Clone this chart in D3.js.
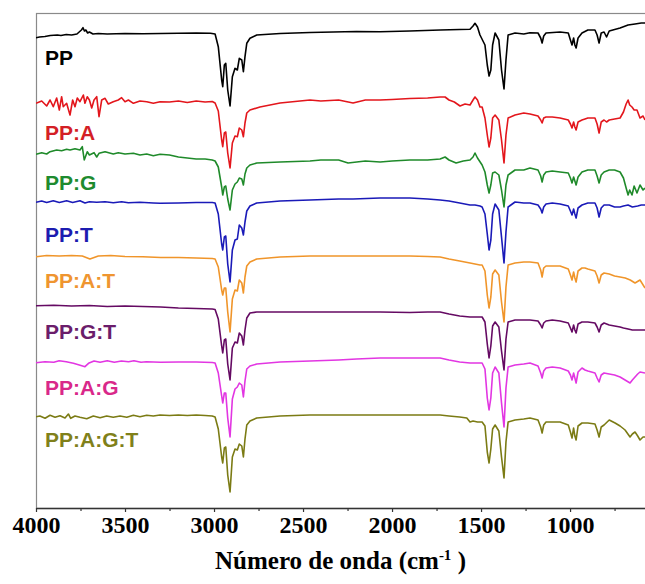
<!DOCTYPE html>
<html><head><meta charset="utf-8">
<script src="https://cdn.jsdelivr.net/npm/d3@7"></script>
<style>html,body{margin:0;padding:0;background:#fff;}svg{display:block;}</style>
</head><body>
<svg id="chart" width="645" height="584"></svg>
<script>
// ---------------- DATA ----------------
const seriesNames = ["PP","PP:A","PP:G","PP:T","PP:A:T","PP:G:T","PP:A:G","PP:A:G:T"];
// vertical offset of each spectrum (a.u.)
const offsets = [471,405,354,306,251,202,145,91];
// distance of the label below its spectrum baseline (a.u.)
const labelGaps = [28,37,36,40,31,33,32,30];
const lineColors = ["#000000","#e3161c","#1f8a2a","#1a1ab8","#f0952a","#650a63","#e236e2","#7b7b14"];
const labelColors = ["#000000","#d41f26","#1e8b2f","#1c1cb0","#ef9530","#6b1d6b","#d9288a","#80801a"];
const majorTicks = [4000,3500,3000,2500,2000,1500,1000];
const minorTicks = [3750,3250,2750,2250,1750,1250,750];

// spectra: [wavenumber (cm-1), transmittance relative to the baseline (a.u.)]
const specPP = [[4000,-0.7],[3980,0],[3950,0.5],[3920,1.5],[3880,2],[3860,1.5],[3830,2.5],[3800,2],[3770,3],[3745,7],[3736,9.3],[3728,6],[3720,7],[3710,4],[3700,5],[3680,3],[3650,3.5],[3600,3],[3500,3.5],[3400,3.2],[3300,3.5],[3200,3.7],[3100,4],[3020,3.7],[2994,3],[2976,-9.7],[2957,-43],[2951,-49.7],[2942,-28],[2934,-26.3],[2923,-53],[2910,-69],[2897,-39.7],[2882,-31.3],[2869,-33],[2858,-21.3],[2844,-23],[2835,-34.7],[2826,-19.7],[2816,-6.3],[2798,-1.3],[2760,2],[2629,3.5],[2461,4.5],[2200,5.5],[2067,5.3],[1900,6],[1730,7],[1620,7.5],[1562,7.7],[1545,11],[1534,13.7],[1520,10],[1506,2],[1478,-8],[1465,-28],[1455,-39],[1445,-33],[1435,-8],[1421,4],[1400,-3],[1385,-33],[1371,-52],[1360,-23],[1348,2],[1309,4],[1260,3],[1225,4.3],[1180,4],[1165,-1],[1157,-6],[1148,1],[1135,4],[1056,5],[1010,4],[998,-3],[989,-8],[980,-1],[973,-8],[966,-11],[955,-1],[933,4],[900,7],[860,7],[848,2],[837,-6],[825,4],[809,5],[795,0],[780,6],[719,9],[674,12],[635,13],[600,14],[579,14]];

const specPPA = [[4000,-0.3],[3968,2],[3940,-3],[3921,3],[3903,-3.7],[3884,5],[3869,-7],[3856,6.3],[3847,-3.7],[3828,-0.3],[3809,-12],[3794,3],[3781,-3.7],[3768,5],[3753,1.3],[3734,8],[3725,-0.3],[3712,6.3],[3700,3],[3687,-5],[3674,3],[3659,6.3],[3646,-13.7],[3631,3],[3612,4.7],[3594,-1],[3566,1.3],[3538,3],[3519,5.3],[3500,1.3],[3481,3],[3453,-0.3],[3416,2],[3378,1.3],[3341,-0.3],[3303,1.3],[3250,1],[3200,2],[3150,0.5],[3100,2],[3050,1],[3010,1.5],[2994,0],[2976,-8],[2957,-37],[2951,-43.7],[2942,-30],[2934,-29],[2923,-50],[2910,-65],[2897,-40],[2882,-33],[2869,-33.7],[2858,-25],[2844,-27],[2835,-33.7],[2826,-20],[2816,-10],[2798,-7],[2742,-4],[2629,0],[2461,3],[2400,2],[2300,3],[2219,0],[2150,3],[2067,3],[2000,3.5],[1900,4.5],[1800,5],[1730,6],[1702,6],[1680,3],[1650,1],[1618,-3],[1590,-1],[1562,-2],[1545,3],[1534,6],[1520,3],[1506,-4],[1494,-4],[1478,-15],[1465,-32],[1455,-44],[1445,-35],[1435,-15],[1421,-12],[1400,-17],[1385,-37],[1371,-60],[1360,-32],[1348,-15],[1309,-12],[1260,-10],[1225,-11],[1180,-13],[1165,-17],[1157,-20],[1148,-15],[1135,-14],[1100,-14],[1056,-15],[1010,-17],[998,-21],[989,-25],[980,-19],[973,-24],[966,-27],[955,-19],[933,-17],[916,-16],[900,-15],[860,-15],[848,-21],[837,-30],[825,-19],[809,-17],[795,-19],[780,-17],[750,-16],[719,-15],[700,-9],[685,-1],[674,3],[665,-2],[652,-4],[640,-7],[624,-7],[607,-15],[590,-13],[579,-17]];

const specPPG = [[4000,-0.3],[3968,1.3],[3940,0],[3921,2.3],[3884,4],[3856,3.3],[3828,4.7],[3809,4],[3781,5.3],[3753,4],[3740,7.3],[3729,-6],[3712,2.3],[3700,-1],[3674,1.3],[3659,-3],[3646,0.7],[3612,2.3],[3566,0],[3538,1.3],[3500,0],[3453,0.7],[3416,-1],[3378,0],[3341,-1.7],[3303,-0.3],[3250,-1],[3200,-3],[3150,-4],[3100,-5],[3050,-5],[3010,-6],[2994,-7],[2976,-13],[2957,-33],[2951,-41],[2942,-33],[2934,-32],[2923,-45],[2910,-56],[2897,-36],[2882,-30],[2869,-28],[2858,-24],[2844,-25],[2835,-31],[2826,-20],[2816,-14],[2798,-11],[2760,-9],[2629,-8],[2461,-7],[2400,-6],[2300,-6],[2247,-9],[2150,-7],[2067,-8],[2000,-7],[1900,-6],[1800,-6],[1730,-5],[1702,-3],[1680,-6],[1640,-9],[1600,-7],[1562,-6],[1545,-3],[1534,1],[1520,-4],[1494,-11],[1478,-18],[1465,-31],[1455,-39],[1445,-31],[1435,-19],[1421,-18],[1400,-21],[1385,-36],[1371,-53],[1360,-31],[1348,-21],[1309,-16],[1260,-16],[1225,-14],[1180,-16],[1165,-22],[1157,-28],[1148,-21],[1135,-18],[1100,-17],[1056,-18],[1010,-19],[998,-24],[989,-29],[980,-23],[973,-27],[966,-31],[955,-23],[933,-18],[900,-16],[860,-16],[848,-22],[837,-29],[825,-21],[809,-18],[780,-16],[750,-16],[719,-18],[700,-24],[685,-34],[674,-41],[665,-36],[652,-41],[640,-32],[624,-39],[607,-31],[590,-36],[579,-34]];

const specPPT = [[4000,-0.3],[3968,1],[3940,-0.5],[3903,1.3],[3869,-0.5],[3828,1.3],[3794,-0.5],[3753,1.3],[3725,-1],[3700,0.3],[3659,-0.3],[3612,0.3],[3566,-0.7],[3519,0.3],[3481,-0.7],[3416,-0.3],[3341,-1],[3303,-1.3],[3200,-1],[3100,-0.5],[3010,-0.5],[2994,-1],[2976,-12],[2957,-42],[2951,-48],[2942,-35],[2934,-34],[2923,-62],[2910,-80],[2897,-48],[2882,-38],[2869,-37],[2858,-23],[2844,-26],[2835,-33],[2826,-20],[2816,-9],[2798,-4],[2760,-1],[2629,1],[2461,2],[2300,3],[2219,3],[2067,4],[1900,4],[1800,3],[1730,2],[1680,1],[1620,-1],[1562,-3],[1534,-3],[1506,-4],[1494,-5],[1478,-12],[1465,-32],[1455,-48],[1445,-38],[1435,-12],[1421,-2],[1400,-8],[1385,-35],[1371,-61],[1360,-30],[1348,-5],[1309,0],[1260,-1],[1225,-1],[1180,-3],[1165,-7],[1157,-11],[1148,-5],[1135,-2],[1100,-1],[1056,-2],[1010,-4],[998,-9],[989,-13],[980,-7],[973,-12],[966,-16],[955,-6],[933,-3],[900,-1],[860,-1],[848,-6],[837,-15],[825,-6],[809,-3],[780,-3],[750,-5],[719,-5],[700,-4],[674,-3],[650,-5],[620,-4],[600,-3],[579,-3]];

const specPPAT = [[4000,0.3],[3940,1.5],[3870,1],[3800,1.5],[3740,1],[3697,-2],[3650,1],[3580,1.5],[3500,0.5],[3400,0.3],[3300,-0.5],[3200,-0.5],[3100,-1],[3010,-1.5],[2994,-2],[2976,-10],[2957,-33],[2951,-38],[2942,-31],[2934,-31],[2923,-55],[2910,-75],[2897,-42],[2882,-33],[2869,-34],[2858,-23],[2844,-26],[2835,-36],[2826,-20],[2816,-9],[2798,-5],[2760,-2],[2629,0],[2461,1],[2300,1],[2067,1],[1900,1],[1800,0.5],[1730,0],[1680,-2],[1620,-4],[1562,-6],[1534,-7],[1506,-8],[1494,-8],[1478,-14],[1465,-38],[1455,-51],[1445,-40],[1435,-17],[1421,-13],[1400,-18],[1385,-45],[1371,-65],[1360,-30],[1348,-8],[1309,-6],[1260,-5],[1225,-5],[1180,-6],[1165,-13],[1157,-20],[1148,-11],[1135,-9],[1100,-9],[1056,-9],[1010,-12],[998,-18],[989,-23],[980,-15],[973,-21],[966,-25],[955,-14],[933,-11],[916,-11],[900,-12],[860,-14],[848,-19],[837,-26],[825,-18],[809,-16],[780,-17],[750,-19],[719,-20],[690,-21],[662,-23],[635,-26],[607,-23],[579,-31]];

const specPPGT = [[4000,0.3],[3900,0.8],[3800,0],[3700,0.5],[3600,-0.5],[3500,0],[3400,-0.5],[3300,-1],[3200,-2],[3100,-2.5],[3010,-3],[2994,-3.5],[2976,-13],[2957,-40],[2951,-47],[2942,-34],[2934,-33],[2923,-58],[2910,-74],[2897,-42],[2882,-36],[2869,-37],[2858,-27],[2844,-30],[2835,-39],[2826,-24],[2816,-12],[2798,-7],[2760,-6],[2629,-6],[2461,-6],[2300,-6],[2067,-6],[1900,-6.5],[1800,-6],[1730,-6],[1680,-8],[1620,-10],[1562,-11],[1534,-11],[1506,-11],[1494,-11],[1478,-16],[1465,-38],[1455,-52],[1445,-40],[1435,-20],[1421,-16],[1400,-21],[1385,-45],[1371,-64],[1360,-33],[1348,-16],[1309,-14],[1260,-14],[1225,-14],[1180,-15],[1165,-19],[1157,-22],[1148,-17],[1135,-15],[1100,-14],[1056,-15],[1010,-17],[998,-22],[989,-26],[980,-19],[973,-24],[966,-27],[955,-18],[933,-16],[900,-16],[860,-17],[848,-21],[837,-26],[825,-19],[809,-17],[780,-19],[750,-20],[719,-21],[700,-22],[674,-23],[650,-24],[620,-24],[600,-24],[579,-24]];

const specPPAG = [[4000,0.3],[3950,1.3],[3900,0.7],[3870,2.3],[3830,1.3],[3790,-0.3],[3752,-2.3],[3725,-3.7],[3705,-0.3],[3674,2],[3640,0.7],[3600,2.3],[3560,0.7],[3520,2],[3480,1.3],[3450,2.3],[3410,0.7],[3380,1.3],[3300,0.7],[3200,1],[3100,1],[3010,0.5],[2994,0],[2976,-10],[2957,-33],[2951,-40],[2942,-30],[2934,-30],[2923,-55],[2910,-74],[2897,-36],[2882,-26],[2869,-24],[2858,-20],[2844,-22],[2835,-34],[2826,-18],[2816,-6],[2798,-3],[2760,-1],[2629,1],[2461,2],[2300,3],[2200,4],[2067,5],[1900,5],[1800,5],[1730,5],[1680,3],[1620,1],[1562,0],[1534,0],[1506,0],[1494,0],[1478,-6],[1465,-35],[1455,-47],[1445,-35],[1435,-10],[1421,-4],[1400,-10],[1385,-40],[1371,-64],[1360,-25],[1348,-4],[1309,-2],[1260,-1],[1225,0],[1180,-3],[1165,-10],[1157,-15],[1148,-8],[1135,-5],[1100,-4],[1056,-5],[1010,-8],[998,-12],[989,-17],[980,-10],[973,-15],[966,-20],[955,-9],[933,-5],[916,-7],[900,-8],[860,-10],[848,-15],[837,-19],[825,-12],[809,-10],[780,-11],[750,-12],[719,-14],[691,-17],[663,-20],[650,-17],[635,-14],[620,-11],[607,-9],[579,-10]];

const specPPAGT = [[4000,0.3],[3978,1],[3949,-1.3],[3921,1.7],[3893,-0.3],[3865,1.3],[3837,-1],[3818,3],[3805,-1.3],[3781,1],[3753,-0.3],[3715,-1.7],[3678,1],[3640,-0.7],[3603,1],[3566,-0.3],[3528,1],[3490,-0.3],[3453,1.7],[3416,0.3],[3378,1.7],[3341,1],[3303,2],[3250,1.5],[3200,2],[3150,1.5],[3100,2],[3050,1.5],[3010,1],[2994,0],[2976,-12],[2957,-40],[2951,-46],[2942,-31],[2934,-30],[2923,-58],[2910,-75],[2897,-40],[2882,-32],[2869,-33],[2858,-27],[2844,-29],[2835,-40],[2826,-22],[2816,-8],[2798,-4],[2760,-1],[2629,1],[2461,2],[2300,2],[2067,2],[1900,2],[1800,2],[1730,2],[1680,1],[1620,0],[1580,-1],[1562,-5],[1545,-4],[1520,-5],[1494,-5],[1478,-9],[1465,-35],[1455,-46],[1445,-32],[1435,-12],[1421,-8],[1400,-14],[1385,-40],[1371,-61],[1360,-25],[1348,-5],[1309,-3],[1260,-2],[1225,-1],[1180,-3],[1165,-10],[1157,-16],[1148,-8],[1135,-5],[1100,-5],[1056,-5],[1010,-8],[998,-15],[989,-21],[980,-11],[973,-19],[966,-23],[955,-9],[933,-6],[916,-6],[900,-6],[860,-7],[848,-13],[837,-20],[825,-10],[809,-8],[780,-3],[747,-6],[719,-9],[691,-13],[663,-20],[650,-17],[635,-15],[620,-19],[607,-23],[590,-20],[579,-20]];

const spectra = [specPP, specPPA, specPPG, specPPT, specPPAT, specPPGT, specPPAG, specPPAGT];

// ---------------- LAYOUT ----------------
const W = 645, H = 584;
const margin = {left: 36, top: 13, right: 0, bottom: 76};
const plotW = W - margin.left - margin.right;
const plotH = H - margin.top - margin.bottom;

const svg = d3.select("#chart");

const x = d3.scaleLinear().domain([4000, 579]).range([margin.left, W - margin.right]);
const y = d3.scaleLinear().domain([0, 495]).range([margin.top + plotH, margin.top]);

svg.append("defs").append("clipPath").attr("id","clip")
  .append("rect").attr("x", margin.left).attr("y", margin.top)
  .attr("width", plotW).attr("height", plotH);

// frame (right border lies outside the picture)
svg.append("rect")
  .attr("x", margin.left + 0.5).attr("y", margin.top + 0.5)
  .attr("width", plotW + 40).attr("height", plotH)
  .attr("fill","none").attr("stroke","#8a8a8a").attr("stroke-width",1.2);

// lines
const line = d3.line()
  .x(d => x(d[0]))
  .y(d => y(d[1]))
  .curve(d3.curveLinear);

const g = svg.append("g").attr("clip-path","url(#clip)");
spectra.forEach((s, i) => {
  g.append("path")
    .datum(s.map(p => [p[0], offsets[i] + p[1]]))
    .attr("d", line)
    .attr("fill","none")
    .attr("stroke", lineColors[i])
    .attr("stroke-width", 1.6)
    .attr("stroke-linejoin","round");
});

// labels
seriesNames.forEach((n, i) => {
  svg.append("text")
    .attr("x", margin.left + 9)
    .attr("y", y(offsets[i] - labelGaps[i]))
    .attr("fill", labelColors[i])
    .attr("font-family", "'Liberation Sans', Arial, sans-serif")
    .attr("font-weight", "bold")
    .attr("font-size", 21)
    .text(n);
});

// x axis
const axisY = margin.top + plotH;
const axMajor = svg.append("g").attr("transform", `translate(0,${axisY})`)
  .call(d3.axisBottom(x).tickValues(majorTicks).tickSize(4).tickSizeOuter(0).tickPadding(4).tickFormat(d3.format("d")));
axMajor.select(".domain").attr("stroke","#333").attr("stroke-width",1.3);
axMajor.selectAll(".tick line").attr("stroke","#333").attr("stroke-width",1.2);
axMajor.selectAll(".tick text")
  .attr("font-family","'Liberation Serif','Times New Roman',serif")
  .attr("font-weight","bold").attr("font-size",24).attr("fill","#000");

const axMinor = svg.append("g").attr("transform", `translate(0,${axisY})`)
  .call(d3.axisBottom(x).tickValues(minorTicks).tickSize(3).tickSizeOuter(0).tickFormat(""));
axMinor.select(".domain").remove();
axMinor.selectAll(".tick line").attr("stroke","#333").attr("stroke-width",1.2);

// axis title
const title = svg.append("text")
  .attr("x", (margin.left + W) / 2)
  .attr("y", 569)
  .attr("text-anchor","middle")
  .attr("font-family","'Liberation Serif','Times New Roman',serif")
  .attr("font-weight","bold").attr("font-size",25).attr("fill","#000");
title.append("tspan").text("Número de onda (cm");
title.append("tspan").attr("font-size",15).attr("dy",-9).text("-1");
title.append("tspan").attr("dy",9).text(" )");
</script>
</body></html>
